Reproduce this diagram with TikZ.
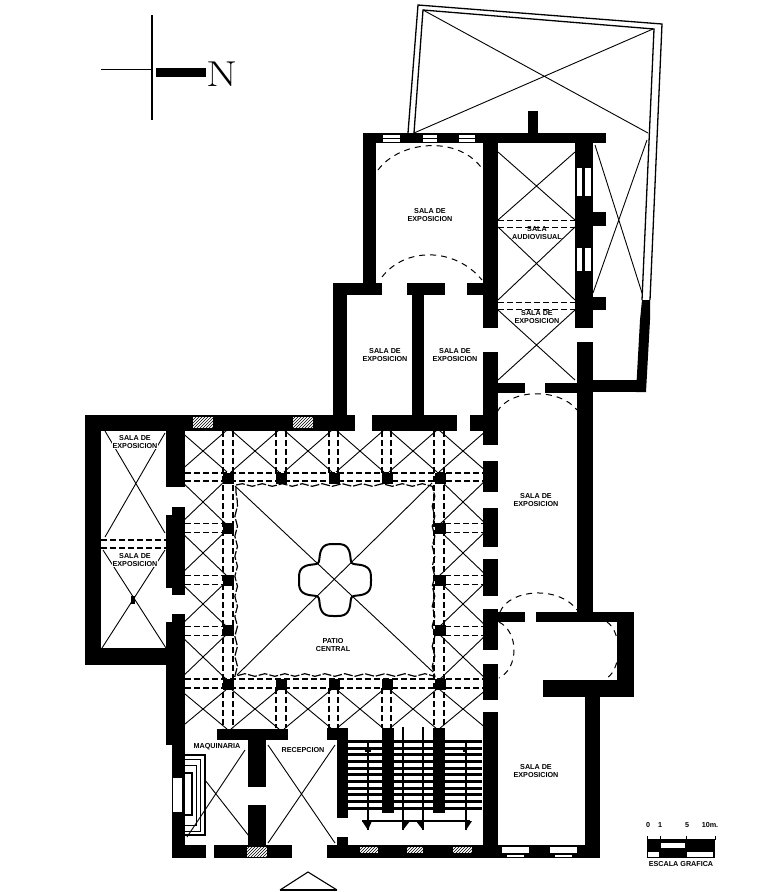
\documentclass[tikz,border=0pt]{standalone}
\usepackage{fontspec}
\setsansfont{Liberation Sans}
\usepackage{tikz}
\usetikzlibrary{patterns,decorations.pathmorphing}
\tikzset{
rib/.style={line width=0.9pt},
archline/.style={line width=1.1pt,dash pattern=on 6pt off 3pt},
vaultarc/.style={line width=1pt,dash pattern=on 6pt off 5pt},
salalabel/.style={font=\sffamily\bfseries\fontsize{7.2}{8.4}\selectfont,align=center,inner sep=0.5pt,fill=white},
hatchwin/.style={fill=white,postaction={pattern=north east lines}},
}
\begin{document}
\begin{tikzpicture}[x=1pt,y=-1pt]
\useasboundingbox (0,0) rectangle (778,892);
\pgfmathsetmacro{\hw}{24}
\pgfmathsetmacro{\hh}{23}
\draw[line width=1.3pt] (408,133) -- (418,5) -- (662,24) -- (650,300);
\draw[line width=1.3pt] (414,133) -- (423,10) -- (654,29) -- (642,300);
\draw[rib] (423,10) -- (648,133) (653,29) -- (414,133);
\draw[rib] (595,145) -- (642,293) (647,140) -- (593,293);
\foreach \cy/\ya/\yb in {185/152/220,263/227/300,347/310/380}
  \draw[rib] (498,\ya) -- (575,\yb) (575,\ya) -- (498,\yb);
\foreach \yd in {220,227,302,309}
  \draw[archline,line width=0.8pt] (498,\yd) -- (575,\yd);
\draw[vaultarc] (378,170) .. controls (400,140) and (460,135) .. (483,170);
\draw[vaultarc] (382,277) .. controls (405,247) and (455,247) .. (482,280);
\draw[vaultarc] (497,412) .. controls (510,388) and (560,388) .. (577,410);
\draw[vaultarc] (500,612) .. controls (510,588) and (560,586) .. (577,610);
\draw[vaultarc] (499,622) .. controls (519,632) and (519,668) .. (499,678);
\draw[vaultarc] (607,622) .. controls (622,632) and (622,668) .. (607,678);
\draw[rib] (105,431) -- (165,533) (165,433) -- (105,537);
\draw[rib] (103,550) -- (166,648) (165,550) -- (102,648);
\fill (131,596) rectangle (135,604);
\foreach \yd in {540,548}
  \draw[archline] (101,\yd) -- (166,\yd);
\foreach \cx in {203,255,308,360,413,463}{
  \draw[rib] ({\cx-\hw},430) -- ({\cx+\hw},472) ({\cx+\hw},430) -- ({\cx-\hw},472);
  \draw[rib] ({\cx-\hw},689) -- ({\cx+\hw},729) ({\cx+\hw},689) -- ({\cx-\hw},729);
}
\foreach \cx in {203,463}
  \foreach \cy in {502,553,604,657}
    \draw[rib] ({\cx-\hw},{\cy-\hh}) -- ({\cx+\hw},{\cy+\hh}) ({\cx+\hw},{\cy-\hh}) -- ({\cx-\hw},{\cy+\hh});
\foreach \yd in {473,481,679,688}
  \draw[archline] (185,\yd) -- (483,\yd);
\foreach \xd in {223,233,434,444}
  \draw[archline] (\xd,431) -- (\xd,728);
\foreach \xd in {276,286,329,338,382,391}{
  \draw[archline] (\xd,431) -- (\xd,473);
  \draw[archline] (\xd,688) -- (\xd,728);
}
\foreach \yd in {523,532,575,584,626,635}{
  \draw[archline,line width=0.8pt] (185,\yd) -- (225,\yd);
  \draw[archline,line width=0.8pt] (445,\yd) -- (483,\yd);
}
\foreach \cx in {228,281,334,387,440}
  \foreach \cy in {478,684}
    \fill ({\cx-5.5},{\cy-5.5}) rectangle ({\cx+5.5},{\cy+5.5});
\foreach \cx in {228,440}
  \foreach \cy in {528,580,630}
    \fill ({\cx-5.5},{\cy-5.5}) rectangle ({\cx+5.5},{\cy+5.5});
\draw[line width=1.2pt,dash pattern=on 9pt off 2pt,decorate,decoration={snake,amplitude=1.3pt,segment length=20pt}]
  (236,485) -- (432,485) -- (432,674) -- (236,674) -- cycle;
\draw[rib] (235,486) -- (433,672) (432,483) -- (237,675);
\draw[line width=2pt] plot[domain=0:360,samples=121,smooth] ({335+(32+6*cos(4*\x)-2*cos(8*\x))*cos(\x)},{580+(32+6*cos(4*\x)-2*cos(8*\x))*sin(\x)});
\draw[rib] (187,837) -- (245,750) (205,780) -- (256,845);
\draw[rib] (268,745) -- (335,843) (335,745) -- (268,843);
\foreach \yd in {741,748,754.5,761,768,774.5,781,788,794.5,801,808}
  \draw[line width=3pt] (348,\yd) -- (482,\yd);
\foreach \xa/\ya/\xb/\yb in {363/133/606/143,363/133/376/295,333/283/382/295,407/283/445/295,412/295/424/415,
  467/283/483/295,333/283/347/420,483/133/498/328,483/352/498/445,483/461/498/492,483/508/498/547,
  483/559/498/596,483/609/498/650,483/664/498/700,483/712/498/858,575/143/593/328,577/342/593/612,
  593/212/606/226,593/297/606/310,528/111/538/133,498/383/525/393,545/383/577/393,593/380/645/392,
  85/415/355/431,372/415/457/431,470/415/483/431,85/415/101/665,85/648/173/665,166/415/185/487,
  172/507/185/595,166/515/172/588,166/622/185/745,172/614/185/622,172/745/185/858,
  172/845/206/858,214/845/292/858,327/845/600/858,217/729/288/740,248/740/266/787,248/805/266/845,
  327/728/348/740,337/740/348/818,337/837/348/845,382/728/394/813,433/728/445/813,
  585/697/600/858,543/680/634/697,617/612/634/697,536/612/634/622,483/612/525/622}
  \fill (\xa,\ya) rectangle (\xb,\yb);
\fill (642,300) -- (650,300) -- (650,320) -- (646,392) -- (636,392) -- (640,320) -- cycle;
\foreach \xa/\xb in {383/400,423/437,459/475}{
  \fill[white] (\xa,135) rectangle (\xb,137.5);
  \fill[white] (\xa,139) rectangle (\xb,141.5);
}
\foreach \ya/\yb in {168/196,248/271}{
  \fill[white] (577,\ya) rectangle (582,\yb);
  \fill[white] (585,\ya) rectangle (591,\yb);
}
\foreach \xa in {193,293}
  \path[hatchwin] (\xa,417) rectangle ({\xa+20},428);
\path[hatchwin] (247,847) rectangle (267,857);
\foreach \xa/\xb in {360/378,407/423,453/472}
  \path[hatchwin] (\xa,847) rectangle (\xb,853);
\foreach \xa/\xb in {502/529,550/577}{
  \fill[white] (\xa,847) rectangle (\xb,853);
  \fill[white] ({\xa+5},855) rectangle ({\xb-5},857);
}
\fill[white] (173,778) rectangle (182,812);
\draw[line width=1.2pt] (185,755) -- (205,755) -- (205,835) -- (185,835);
\draw[line width=1pt] (185,759) -- (200,759) -- (200,831) -- (185,831);
\draw[line width=1pt] (185,765) -- (196,765) -- (196,825) -- (185,825);
\draw[line width=2.4pt] (185,773) -- (192,773) -- (192,815) -- (185,815);
\draw[line width=1.2pt] (368,740) -- (368,830) (466,740) -- (466,830);
\draw[line width=1.2pt] (403,727) -- (403,830) (423,727) -- (423,830);
\draw[line width=1.2pt] (362,821) -- (470,821);
\fill (362,821) -- (372,821) -- (368,830) -- cycle;
\fill (403,821) -- (410,821) -- (403,830) -- cycle;
\fill (416,821) -- (423,821) -- (423,830) -- cycle;
\fill (466,821) -- (472,821) -- (466,830) -- cycle;
\fill (365,747) rectangle (371,752);
\fill (463,747) rectangle (467,752);
\draw[line width=1.1pt] (280,890) -- (308,872) -- (337,890);
\draw[line width=2pt] (280,890) -- (337,890);
\draw[line width=2.5pt] (152,15) -- (152,120);
\draw[line width=0.8pt] (101,69) -- (152,69);
\fill (156,68) rectangle (206,77);
\node[inner sep=0pt,font=\fontsize{36}{36}\selectfont] (norte) at (222,74) {\scalebox{1.25}[1]{N}};
\node[salalabel] (salaa) at (430,215) {SALA DE\\EXPOSICION};
\node[salalabel,fill=none] (salab) at (537,233) {SALA\\AUDIOVISUAL};
\node[salalabel,fill=none] (salac) at (537,317) {SALA DE\\EXPOSICION};
\node[salalabel] (salad) at (385,355) {SALA DE\\EXPOSICION};
\node[salalabel] (salae) at (455,355) {SALA DE\\EXPOSICION};
\node[salalabel] (salaf) at (536,500) {SALA DE\\EXPOSICION};
\node[salalabel] (salag) at (536,771) {SALA DE\\EXPOSICION};
\node[salalabel] (salah) at (135,442) {SALA DE\\EXPOSICION};
\node[salalabel] (salai) at (135,560) {SALA DE\\EXPOSICION};
\node[salalabel] (patio) at (333,645) {PATIO\\CENTRAL};
\node[salalabel] (maquina) at (217,747) {MAQUINARIA};
\node[salalabel] (recep) at (303,750) {RECEPCION};
\fill (647,839) rectangle (715,858);
\fill[white] (661,843) rectangle (685,848);
\fill[white] (648,852) rectangle (659,857);
\fill[white] (687,852) rectangle (713,857);
\foreach \xd in {647,660,686,715}
  \draw[line width=0.8pt] (\xd,836) -- (\xd,840);
\node[salalabel,fill=none] (esc0) at (648,825) {0};
\node[salalabel,fill=none] (esc1) at (660,825) {1};
\node[salalabel,fill=none] (esc5) at (687,825) {5};
\node[salalabel,fill=none] (esc10) at (710,825) {10m.};
\node[salalabel,fill=none] (escala) at (681,864) {ESCALA GRAFICA};
\end{tikzpicture}
\end{document}
